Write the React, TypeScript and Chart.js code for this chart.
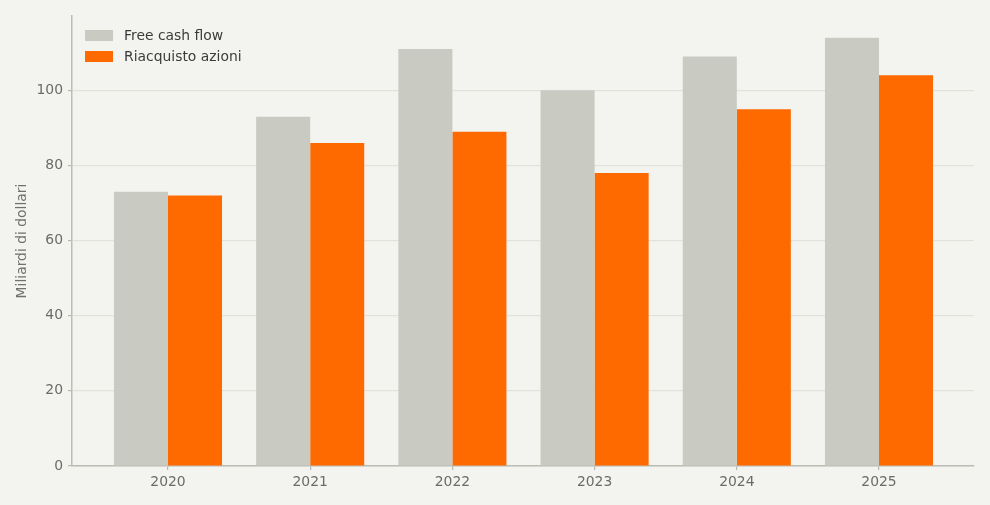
import { useEffect, useRef } from 'react';
import { Chart, registerables } from 'chart.js';

Chart.register(...registerables);

const years = [2020, 2021, 2022, 2023, 2024, 2025];
const freeCashFlow = [73, 93, 111, 100, 109, 114];
const buybacks = [72, 86, 89, 78, 95, 104];
const yTicks = [0, 20, 40, 60, 80, 100];

const FONT = "'DejaVu Sans', sans-serif";
const SIZE = 13.9;

export default function App() {
  const canvasRef = useRef<HTMLCanvasElement>(null);

  useEffect(() => {
    document.body.style.margin = '0';
    document.body.style.background = '#f3f4ef';
    if (!canvasRef.current) return;
    const ctx = canvasRef.current.getContext('2d');
    if (!ctx) return;

    const bgPlugin = {
      id: 'bg',
      beforeDraw(chart: Chart) {
        const c = chart.ctx;
        c.save();
        c.fillStyle = '#f3f4ef';
        c.fillRect(0, 0, chart.width, chart.height);
        c.restore();
      },
    };

    // legend drawn inside the plot, top-left, like the source
    const legendPlugin = {
      id: 'insideLegend',
      afterDraw(chart: Chart) {
        const c = chart.ctx;
        const area = chart.chartArea;
        c.save();
        c.font = `${SIZE}px ${FONT}`;
        c.textBaseline = 'middle';
        chart.data.datasets.forEach((ds: any, i: number) => {
          const x = area.left + 13;
          const y = area.top + 14 + i * 21;
          c.fillStyle = ds.backgroundColor;
          c.fillRect(x, y, 28, 11);
          c.fillStyle = '#3b3b3b';
          c.fillText(ds.label, x + 39, y + 6);
        });
        c.restore();
      },
    };

    const chart = new Chart(ctx, {
      type: 'bar',
      data: {
        datasets: [
          {
            label: 'Free cash flow',
            data: years.map((y, i) => ({ x: y, y: freeCashFlow[i] })),
            backgroundColor: '#c9cac2',
            categoryPercentage: 0.76,
            barPercentage: 1,
          },
          {
            label: 'Riacquisto azioni',
            data: years.map((y, i) => ({ x: y, y: buybacks[i] })),
            backgroundColor: '#ff6a00',
            categoryPercentage: 0.76,
            barPercentage: 1,
          },
        ],
      },
      options: {
        animation: false,
        responsive: false,
        layout: { padding: { top: 16, right: 16, left: 0, bottom: 0 } },
        plugins: {
          tooltip: { enabled: false },
          legend: { display: false },
        },
        scales: {
          x: {
            type: 'linear',
            offset: false,
            min: 2019.325,
            max: 2025.668,
            afterBuildTicks: (scale: any) => {
              scale.ticks = years.map((v) => ({ value: v }));
            },
            afterFit: (scale: any) => {
              scale.height = 39;
            },
            ticks: {
              color: '#6b6b6b',
              font: { family: FONT, size: SIZE },
              padding: 4,
              callback: (v: any) => String(v),
            },
            grid: {
              offset: false,
              drawOnChartArea: false,
              drawTicks: true,
              tickLength: 4,
              tickColor: '#b8b8b1',
              lineWidth: 1.2,
            },
            border: { color: '#bcbcb5', width: 1.5 },
          },
          y: {
            min: 0,
            max: 119.8,
            afterBuildTicks: (scale: any) => {
              scale.ticks = yTicks.map((v) => ({ value: v }));
            },
            afterFit: (scale: any) => {
              scale.width = 72;
            },
            ticks: {
              color: '#6b6b6b',
              font: { family: FONT, size: SIZE },
              padding: 5,
            },
            grid: {
              color: '#e2e2dc',
              lineWidth: 1.2,
              tickLength: 4,
              tickColor: '#b8b8b1',
            },
            border: { color: '#bcbcb5', width: 1.5 },
            title: {
              display: true,
              text: 'Miliardi di dollari',
              color: '#707070',
              font: { family: FONT, size: SIZE },
              padding: { top: 14, bottom: 0 },
            },
          },
        },
      },
      plugins: [bgPlugin, legendPlugin],
    });

    return () => {
      chart.destroy();
    };
  }, []);

  return (
    <div style={{ width: 990, height: 505 }}>
      <canvas ref={canvasRef} width={990} height={505}></canvas>
    </div>
  );
}
